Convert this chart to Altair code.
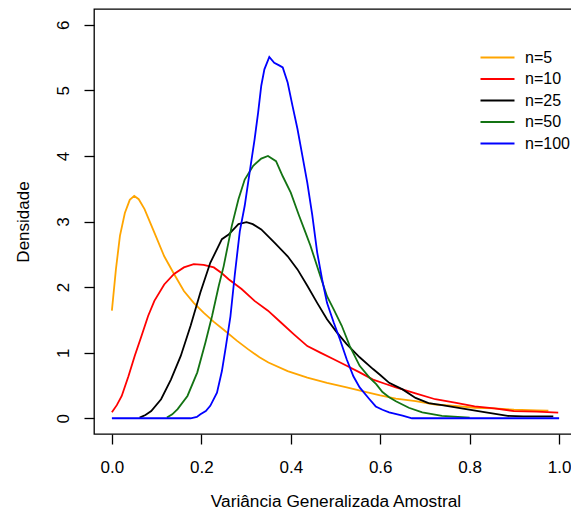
import altair as alt
import pandas as pd

# ---- data ----
series_labels = ["n=5", "n=10", "n=25", "n=50", "n=100"]
series_colors = ["#FFA500", "#FF0000", "#000000", "#137313", "#0000FF"]

x_n5 = [0.0, 0.009, 0.018, 0.029, 0.04, 0.05, 0.06, 0.073, 0.095, 0.117, 0.139, 0.161,
        0.183, 0.205, 0.228, 0.25, 0.28, 0.305, 0.33, 0.35, 0.393, 0.437, 0.481, 0.525,
        0.569, 0.6, 0.635, 0.679, 0.723, 0.767, 0.811, 0.855, 0.899, 0.95, 0.976]
y_n5 = [1.64, 2.27, 2.78, 3.13, 3.33, 3.39, 3.34, 3.19, 2.83, 2.47, 2.20, 1.94,
        1.76, 1.61, 1.47, 1.35, 1.18, 1.05, 0.93, 0.85, 0.72, 0.62, 0.54, 0.47,
        0.40, 0.35, 0.30, 0.26, 0.21, 0.19, 0.16, 0.15, 0.13, 0.12, 0.115]

x_n10 = [0.0, 0.011, 0.022, 0.037, 0.051, 0.066, 0.081, 0.095, 0.117, 0.139, 0.161, 0.183,
         0.205, 0.228, 0.246, 0.261, 0.29, 0.319, 0.349, 0.378, 0.407, 0.437, 0.466, 0.496,
         0.525, 0.554, 0.584, 0.609, 0.635, 0.679, 0.723, 0.767, 0.811, 0.855, 0.899, 0.95, 0.998]
y_n10 = [0.09, 0.20, 0.34, 0.64, 0.95, 1.25, 1.56, 1.79, 2.04, 2.20, 2.30, 2.35,
         2.34, 2.30, 2.21, 2.12, 1.97, 1.79, 1.64, 1.46, 1.28, 1.10, 1.00, 0.90,
         0.80, 0.70, 0.59, 0.53, 0.47, 0.38, 0.29, 0.24, 0.18, 0.15, 0.11, 0.10, 0.085]

x_n25 = [0.062, 0.075, 0.088, 0.11, 0.132, 0.154, 0.176, 0.198, 0.22, 0.246, 0.261, 0.283,
         0.301, 0.315, 0.334, 0.363, 0.393, 0.415, 0.437, 0.459, 0.481, 0.503, 0.525, 0.554,
         0.584, 0.60, 0.62, 0.65, 0.679, 0.708, 0.738, 0.782, 0.826, 0.885, 0.92, 0.987]
y_n25 = [0.01, 0.05, 0.11, 0.29, 0.59, 0.95, 1.41, 1.92, 2.37, 2.73, 2.80, 2.96,
         2.99, 2.96, 2.88, 2.68, 2.47, 2.27, 2.02, 1.76, 1.51, 1.31, 1.13, 0.93,
         0.75, 0.66, 0.54, 0.44, 0.31, 0.23, 0.20, 0.15, 0.10, 0.035, 0.03, 0.03]

x_n50 = [0.123, 0.135, 0.147, 0.169, 0.191, 0.209, 0.224, 0.239, 0.25, 0.268, 0.283, 0.297,
         0.316, 0.334, 0.349, 0.367, 0.382, 0.40, 0.418, 0.433, 0.444, 0.466, 0.481, 0.496,
         0.514, 0.532, 0.554, 0.576, 0.591, 0.605, 0.62, 0.635, 0.664, 0.694, 0.738, 0.80]
y_n50 = [0.01, 0.06, 0.14, 0.34, 0.70, 1.15, 1.56, 2.02, 2.32, 2.93, 3.34, 3.64,
         3.85, 3.96, 4.00, 3.92, 3.69, 3.44, 3.10, 2.83, 2.63, 2.17, 1.86, 1.66,
         1.41, 1.10, 0.80, 0.62, 0.52, 0.40, 0.32, 0.26, 0.16, 0.09, 0.035, 0.01]

x_n100 = [0.0, 0.176, 0.19, 0.198, 0.21, 0.22, 0.235, 0.246, 0.255, 0.265, 0.275, 0.286,
          0.297, 0.308, 0.319, 0.327, 0.334, 0.341, 0.352, 0.363, 0.374, 0.382, 0.393, 0.404,
          0.415, 0.426, 0.437, 0.448, 0.459, 0.47, 0.481, 0.496, 0.51, 0.525, 0.54, 0.554,
          0.576, 0.59, 0.605, 0.62, 0.65, 0.671, 1.0]
y_n100 = [0.0, 0.0, 0.02, 0.06, 0.11, 0.19, 0.39, 0.72, 1.10, 1.55, 2.20, 2.85,
          3.24, 3.75, 4.25, 4.66, 5.07, 5.32, 5.51, 5.42, 5.38, 5.35, 5.12, 4.76,
          4.41, 4.00, 3.59, 3.10, 2.53, 2.12, 1.76, 1.46, 1.20, 0.90, 0.64, 0.47,
          0.29, 0.18, 0.13, 0.09, 0.04, 0.0, 0.0]

x_ticks = [0.0, 0.2, 0.4, 0.6, 0.8, 1.0]
y_ticks = [0, 1, 2, 3, 4, 5, 6]

all_x = [x_n5, x_n10, x_n25, x_n50, x_n100]
all_y = [y_n5, y_n10, y_n25, y_n50, y_n100]

rows = []
for lab, xs, ys in zip(series_labels, all_x, all_y):
    for i, (xv, yv) in enumerate(zip(xs, ys)):
        rows.append({"serie": lab, "ordem": i, "x": xv, "y": yv})
df = pd.DataFrame(rows)

FONT = "Liberation Sans"

chart = alt.Chart(df).mark_line(strokeWidth=1.8).encode(
    x=alt.X("x:Q",
            scale=alt.Scale(domain=[-0.04, 1.04], nice=False, zero=False),
            axis=alt.Axis(values=x_ticks, format=".1f", grid=False, domain=False,
                          title="Variância Generalizada Amostral",
                          tickSize=10, tickWidth=1.3, tickColor="black",
                          labelFont=FONT, labelFontSize=17, labelColor="black",
                          labelPadding=15, labelFlush=False,
                          titleFont=FONT, titleFontSize=17.3, titleFontWeight="normal",
                          titleColor="black", titleBaseline="alphabetic", titleY=72)),
    y=alt.Y("y:Q",
            scale=alt.Scale(domain=[-0.24, 6.24], nice=False, zero=False),
            axis=alt.Axis(values=y_ticks, format="d", grid=False, domain=False,
                          title="Densidade",
                          tickSize=10, tickWidth=1.3, tickColor="black",
                          labelFont=FONT, labelFontSize=17, labelColor="black",
                          labelAngle=-90, labelAlign="center", labelBaseline="bottom",
                          labelPadding=12, labelFlush=False,
                          titleFont=FONT, titleFontSize=17, titleFontWeight="normal",
                          titleColor="black", titleAngle=-90, titleAlign="center",
                          titleBaseline="alphabetic", titleX=-65.5, titleY=212.5)),
    color=alt.Color("serie:N",
                    scale=alt.Scale(domain=series_labels, range=series_colors),
                    legend=alt.Legend(title=None, orient="none", legendX=394, legendY=39,
                                      symbolType="M-2,0H2", symbolSize=289,
                                      symbolStrokeWidth=1.8, labelFont=FONT,
                                      labelFontSize=16, labelColor="black",
                                      labelOffset=18, rowPadding=3.5, padding=0)),
    order=alt.Order("ordem:Q"),
).properties(
    width=483, height=425,
    autosize=alt.AutoSizeParams(type="none"),
    padding={"left": 86, "top": 1, "right": -6, "bottom": 77},
).configure_view(stroke="black", strokeWidth=1.3)

chart.save("out.html", embed_options={"renderer": "svg", "actions": False})
